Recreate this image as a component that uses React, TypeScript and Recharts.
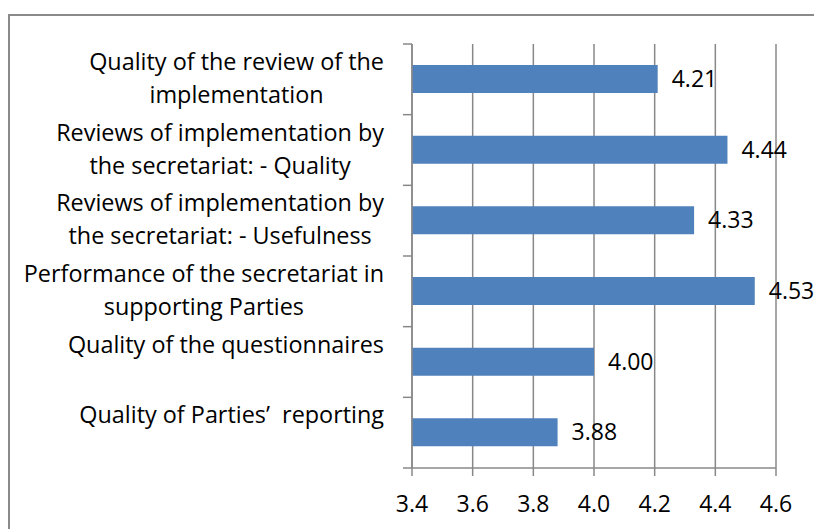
import React from "react";
import { BarChart, Bar, XAxis, YAxis, CartesianGrid, LabelList } from "recharts";

const categories: string[] = [
  "Quality of the review of the\nimplementation",
  "Reviews of implementation by\nthe secretariat: - Quality",
  "Reviews of implementation by\nthe secretariat: - Usefulness",
  "Performance of the secretariat in\nsupporting Parties",
  "Quality of the questionnaires\n",
  "Quality of Parties’  reporting\n",
];
const scores: number[] = [4.21, 4.44, 4.33, 4.53, 4.0, 3.88];
const xTicks: number[] = [3.4, 3.6, 3.8, 4.0, 4.2, 4.4, 4.6];

const data = categories.map((name, i) => ({ name, value: scores[i] }));

const W = 814;
const H = 529;
const M_TOP = 44;
const M_RIGHT = 38;
const Y_W = 412;
const X_H = 61;
const PLOT_H = H - M_TOP - X_H;
const BAND = PLOT_H / categories.length;
const TICK_SIZE = 9;
const TICK_GAP = 19;
const GRID = "#888888";
const FONT = "'Open Sans', sans-serif";
const CAT_FS = 23.4;
const NUM_FS = 23;
const LINE_H = 33;

let ctx: CanvasRenderingContext2D | null = null;
function measure(t: string): number {
  if (!ctx) {
    const c = document.createElement("canvas");
    ctx = c.getContext("2d");
  }
  if (!ctx) return t.length * CAT_FS * 0.5;
  ctx.font = `${CAT_FS}px 'Open Sans'`;
  return ctx.measureText(t).width;
}

const CatTick = (props: any) => {
  const { x, y, payload, index } = props;
  const lines: string[] = String(payload.value).split("\n");
  const maxW = Math.max(...lines.map((l) => measure(l)));
  const cx = x - maxW / 2;
  const n = lines.length;
  const axisX = x + TICK_GAP + TICK_SIZE;
  const yTop = y - BAND / 2;
  return (
    <g>
      <line x1={axisX - TICK_SIZE} x2={axisX} y1={yTop} y2={yTop} stroke={GRID} strokeWidth={1.5} />
      {index === categories.length - 1 && (
        <line x1={axisX - TICK_SIZE} x2={axisX} y1={y + BAND / 2} y2={y + BAND / 2} stroke={GRID} strokeWidth={1.5} />
      )}
      {lines.map((l, i) => (
        <text
          key={i}
          x={cx}
          y={y - ((n - 1) * LINE_H) / 2 + i * LINE_H - 2}
          textAnchor="middle"
          dominantBaseline="central"
          fontFamily={FONT}
          fontSize={CAT_FS}
          fill="#000"
          style={{ whiteSpace: "pre" }}
        >
          {l}
        </text>
      ))}
    </g>
  );
};

export default function App() {
  return (
    <div style={{ position: "fixed", left: 0, top: 0, width: W, height: H, overflow: "hidden", background: "#fff" }}>
      <div
        style={{
          position: "absolute",
          left: 8,
          top: 14,
          width: 900,
          height: 700,
          border: "2px solid #8a8a8a",
        }}
      />
      <div style={{ position: "absolute", left: 0, top: 0 }}>
        <BarChart
          width={W}
          height={H}
          data={data}
          layout="vertical"
          margin={{ top: M_TOP, right: M_RIGHT, bottom: 0, left: 0 }}
          barSize={28}
        >
          <CartesianGrid horizontal={false} vertical stroke={GRID} strokeWidth={1.5} />
          <XAxis
            type="number"
            domain={[3.4, 4.6]}
            ticks={xTicks}
            interval={0}
            height={X_H}
            tickSize={8}
            tickMargin={20}
            tickFormatter={(v: number) => v.toFixed(1)}
            tick={{ fill: "#000", fontFamily: FONT, fontSize: NUM_FS }}
            axisLine={{ stroke: GRID, strokeWidth: 1.5 }}
            tickLine={{ stroke: GRID, strokeWidth: 1.5 }}
            allowDataOverflow
          />
          <YAxis
            type="category"
            dataKey="name"
            width={Y_W}
            interval={0}
            tickSize={TICK_SIZE}
            tickMargin={TICK_GAP}
            tickLine={false}
            axisLine={{ stroke: GRID, strokeWidth: 1.5 }}
            tick={<CatTick />}
          />
          <Bar dataKey="value" fill="#4F81BD" isAnimationActive={false}>
            <LabelList
              dataKey="value"
              position="right"
              offset={14}
              formatter={(v: number) => Number(v).toFixed(2)}
              fill="#000"
              fontFamily={FONT}
              fontSize={NUM_FS}
            />
          </Bar>
        </BarChart>
      </div>
    </div>
  );
}
